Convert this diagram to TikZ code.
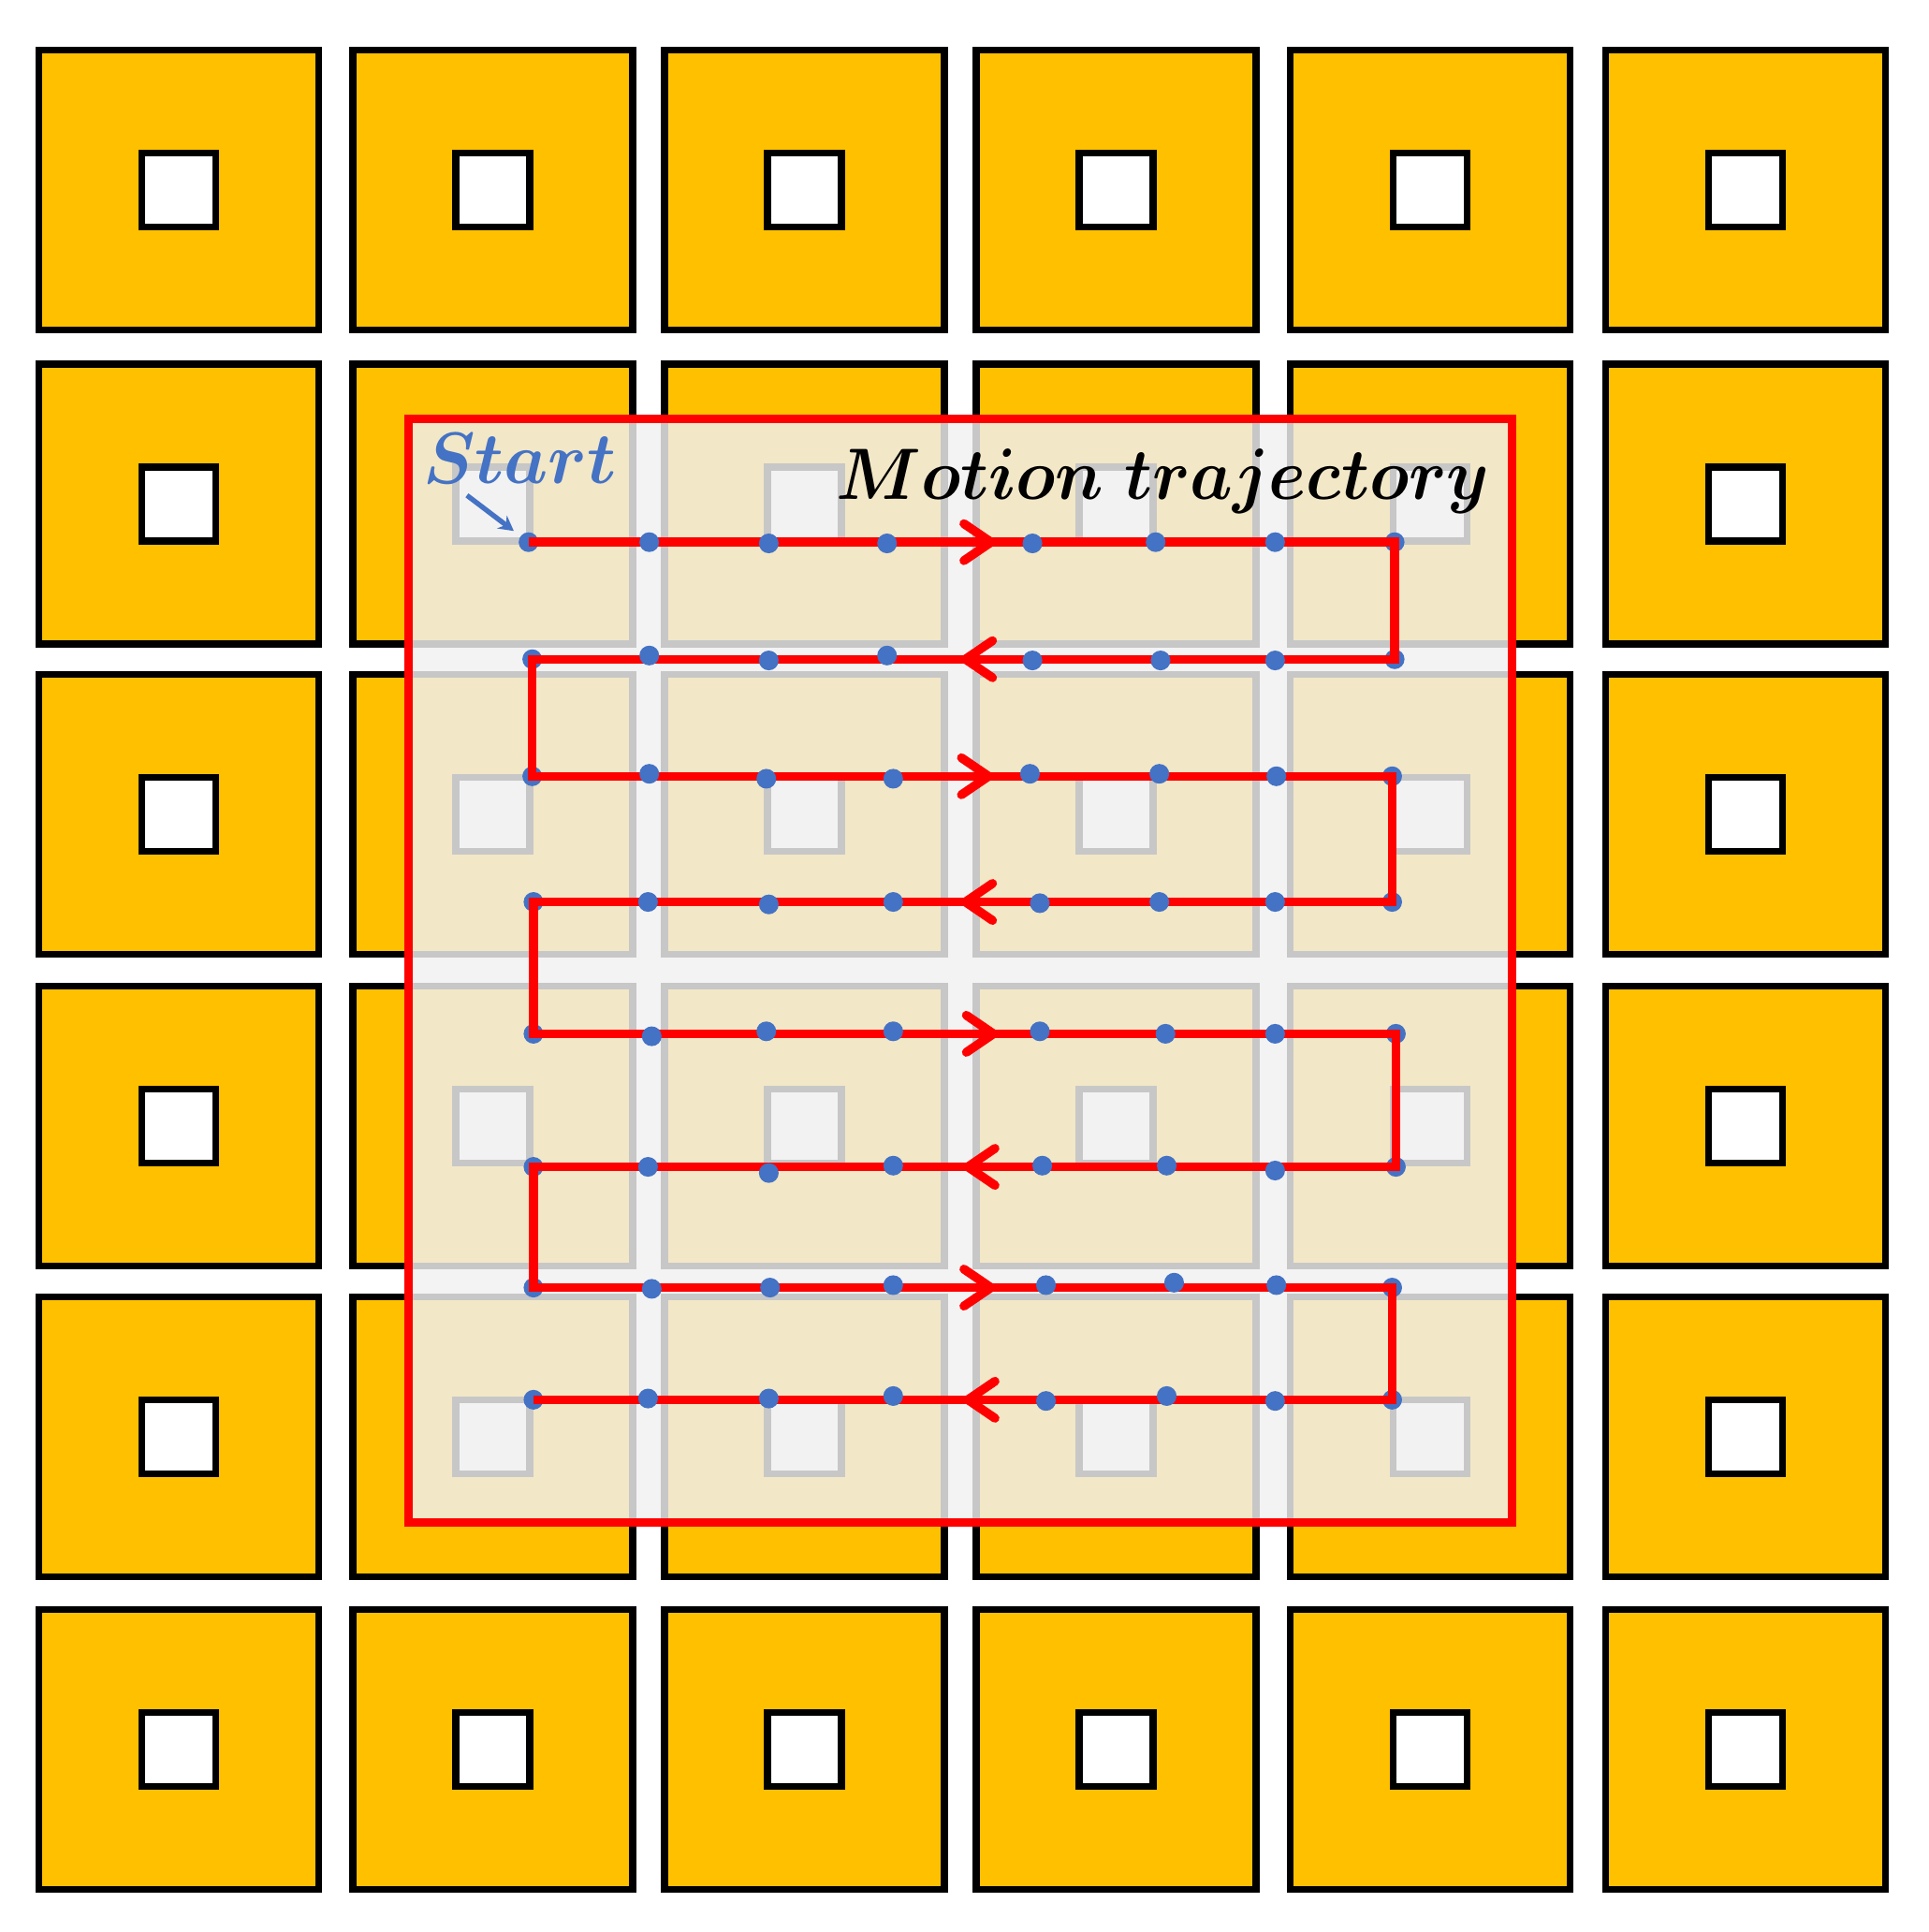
\RequirePackage{fix-cm}
\documentclass[tikz,border=0pt]{standalone}
\usepackage{bm}
\usepackage{graphicx}
\usetikzlibrary{arrows.meta,calc}
\definecolor{tileyellow}{HTML}{FFC000}
\definecolor{dotblue}{HTML}{4472C4}
\definecolor{trajred}{HTML}{FF0000}
\definecolor{veil}{RGB}{240,240,240}
\begin{document}
\begin{tikzpicture}[x=0.01cm,y=-0.01cm,
  tile/.style={draw=black,fill=tileyellow,line width=1.6pt,rectangle,inner sep=0pt,minimum size=2.27cm},
  hole/.style={draw=black,fill=white,line width=1.6pt,rectangle,inner sep=0pt,minimum size=0.6cm},
  framebox/.style={draw=trajred,line width=1.95pt,fill=veil,fill opacity=0.83,rectangle,inner sep=0pt,minimum width=8.95cm,minimum height=8.95cm},
  traj/.style={draw=trajred,line width=2.05pt,line join=miter},
  dirmark/.style={traj,-{Straight Barb[length=0.22cm,width=0.3cm,round]}},
  dot/.style={circle,fill=dotblue,inner sep=0pt,minimum size=0.16cm},
  lbl/.style={inner sep=0pt,anchor=base,font=\fontsize{16.8}{20}\selectfont},
  startarrow/.style={draw=dotblue,line width=1.15pt,-{Stealth[length=0.12cm,width=0.13cm]}}
]
\useasboundingbox (0,0) rectangle (1565,1568);
% tiles
\foreach \cx [count=\i] in {145,400,653,906,1161,1417}{
  \foreach \cy [count=\j] in {154,409,661,914,1166,1420}{
    \node[tile] (t\i-\j) at (\cx,\cy) {};
    \node[hole] (h\i-\j) at (\cx,\cy) {};
  }
}
% frame with veil
\node[framebox] (frame) at (779.5,787.5) {};
% end dots (under the line)
\foreach \xl/\xr/\y [count=\r] in {429/1132/440,432/1132/535,432/1130/630,433/1130/732,433/1133/839,433/1133/947,433/1130/1045,433/1130/1136}{
  \node[dot] (d\r-1) at (\xl,\y) {};
  \node[dot] (d\r-8) at (\xr,\y) {};
}
% trajectory
\draw[traj] (d1-1.center) -- (d1-8.center) -- (d2-8.center) -- (d2-1.center)
  -- (d3-1.center) -- (d3-8.center) -- (d4-8.center) -- (d4-1.center)
  -- (d5-1.center) -- (d5-8.center) -- (d6-8.center) -- (d6-1.center)
  -- (d7-1.center) -- (d7-8.center) -- (d8-8.center) -- (d8-1.center);
% direction marks
\foreach \x/\y/\s [count=\r] in {808/440/-1,780/535/1,806/630/-1,780/732/1,810/839/-1,782/947/1,808/1045/-1,782/1136/1}{
  \coordinate (a\r) at (\x,\y);
  \draw[dirmark] ($(a\r)+(\s*30,0)$) -- (a\r);
}
% middle dots
\foreach \pts [count=\r] in {
  {527/440,624/441,720/441,838/441,938/440,1035/440},
  {527/532,624/536,720/532,838/536,942/536,1035/536},
  {527/628,622/632,725/632,836/628,941/628,1036/630},
  {526/732,624/734,725/732,844/733,941/732,1035/732},
  {529/841,622/837,725/837,844/837,946/839,1035/839},
  {526/947,624/952,725/946,846/946,947/946,1035/950},
  {529/1046,625/1045,725/1043,849/1043,953/1041,1036/1043},
  {526/1135,624/1135,725/1133,849/1137,947/1133,1035/1137}}{
  \foreach \x/\y [count=\c from 2] in \pts {
    \node[dot] (d\r-\c) at (\x,\y) {};
  }
}
% labels
\node[lbl,text=dotblue] (startlbl) at (422,392) {\scalebox{0.96}[1]{$\bm{Start}$}};
\node[lbl] (motionlbl) at (944,405) {\scalebox{0.93}[1]{$\bm{Motion\ trajectory}$}};
\coordinate (sa) at (379,402);
\draw[startarrow,shorten >=0.15cm] (sa) -- (d1-1.center);
\end{tikzpicture}
\end{document}
